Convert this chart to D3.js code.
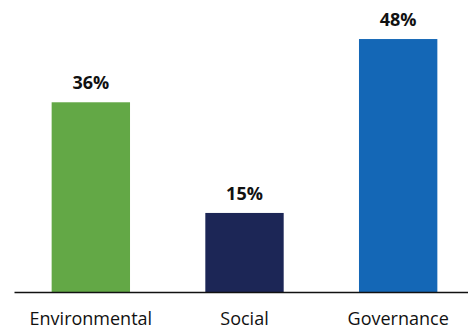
<!DOCTYPE html>
<html>
<head>
<meta charset="utf-8">
<script src="https://cdn.jsdelivr.net/npm/d3@7"></script>
<style>
  body { margin: 0; background: #fff; }
  svg { display: block; }
</style>
</head>
<body>
<div id="chart"></div>
<script>
// data
var categories = ["Environmental", "Social", "Governance"];
var shares = [36, 15, 48];
var barColors = ["#63a846", "#1c2656", "#1467b6"];

var W = 468, H = 330;

var svg = d3.select("#chart")
    .append("svg")
    .attr("width", W)
    .attr("height", H);

// band scale runs a bit past the right edge, like the original
var x = d3.scaleBand()
    .domain(categories)
    .range([14, 475])
    .paddingInner(0.49)
    .paddingOuter(0.245);

var y = d3.scaleLinear()
    .domain([0, 50])
    .range([292, 28.5]);

// bars
svg.append("g")
    .selectAll("rect")
    .data(shares)
    .enter()
    .append("rect")
    .attr("x", function (d, i) { return x(categories[i]) })
    .attr("y", function (d) { return y(d) })
    .attr("width", x.bandwidth())
    .attr("height", function (d) { return y(0) - y(d) })
    .attr("fill", function (d, i) { return barColors[i] })

// value labels
svg.append("g")
    .selectAll("text")
    .data(shares)
    .enter()
    .append("text")
    .attr("x", function (d, i) { return x(categories[i]) + x.bandwidth() / 2 })
    .attr("y", function (d) { return y(d) - 13 })
    .attr("text-anchor", "middle")
    .style("font-family", "'Open Sans', sans-serif")
    .style("font-weight", "bold")
    .style("font-size", "18px")
    .style("fill", "#111")
    .text(function (d) { return d + "%" })

// x axis
var xAxis = svg.append("g")
    .attr("transform", "translate(0," + y(0) + ")")
    .call(d3.axisBottom(x).tickSize(0).tickPadding(20));

xAxis.select(".domain")
    .attr("stroke", "#111")
    .attr("stroke-width", 1.6);

xAxis.selectAll("text")
    .style("font-family", "'Open Sans', sans-serif")
    .style("font-size", "18px")
    .style("fill", "#111");
</script>
</body>
</html>
